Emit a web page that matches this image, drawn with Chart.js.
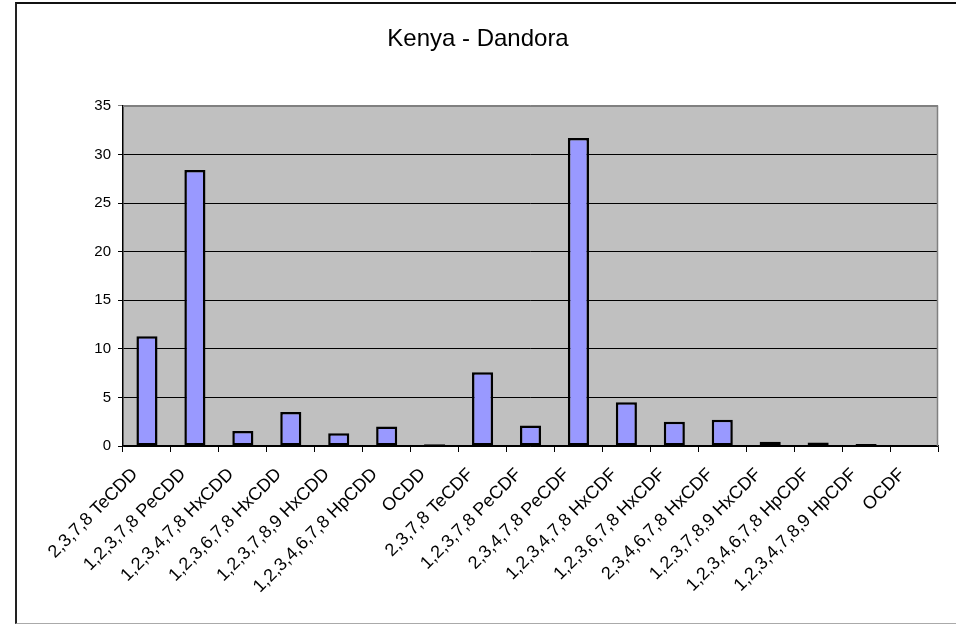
<!DOCTYPE html>
<html>
<head>
<meta charset="utf-8">
<title>Kenya - Dandora</title>
<script src="https://cdn.jsdelivr.net/npm/chart.js@4.4.1/dist/chart.umd.min.js"></script>
<style>
    html, body { margin: 0; padding: 0; background: #fff; overflow: hidden; }
    #wrap { position: relative; width: 956px; height: 624px; }
    #frame {
        position: absolute; left: 15px; top: 2px; width: 960px; height: 619px;
        border-left: 2px solid #222; border-top: 2px solid #111; border-bottom: 1px solid #aaa;
        pointer-events: none;
    }
    canvas { position: absolute; left: 0; top: 0; }
</style>
</head>
<body>
<div id="wrap">
    <canvas id="chart" width="956" height="624"></canvas>
    <div id="frame"></div>
</div>
<script>
// 그림에서 읽은 값 (막대 높이)
const congeners = [
    '2,3,7,8 TeCDD', '1,2,3,7,8 PeCDD', '1,2,3,4,7,8 HxCDD', '1,2,3,6,7,8 HxCDD',
    '1,2,3,7,8,9 HxCDD', '1,2,3,4,6,7,8 HpCDD', 'OCDD', '2,3,7,8 TeCDF',
    '1,2,3,7,8 PeCDF', '2,3,4,7,8 PeCDF', '1,2,3,4,7,8 HxCDF', '1,2,3,6,7,8 HxCDF',
    '2,3,4,6,7,8 HxCDF', '1,2,3,7,8,9 HxCDF', '1,2,3,4,6,7,8 HpCDF', '1,2,3,4,7,8,9 HpCDF', 'OCDF'
];
const dandora = [11.3, 28.4, 1.55, 3.5, 1.3, 2.0, 0.17, 7.6, 2.1, 31.7, 4.5, 2.5, 2.7, 0.45, 0.35, 0.2, null];
const yTicks = [0, 5, 10, 15, 20, 25, 30, 35];

const FONT = 'Arial, "Liberation Sans", sans-serif';

// 플롯 영역 배경 + 회색 테두리
const plotBg = {
    id: 'plotBg',
    beforeDraw(chart) {
        const { ctx, chartArea: a } = chart;
        ctx.save();
        ctx.fillStyle = '#c0c0c0';
        ctx.fillRect(a.left, a.top, a.right - a.left, a.bottom - a.top);
        ctx.restore();
    },
    afterDatasetsDraw(chart) {
        const { ctx, chartArea: a } = chart;
        ctx.save();
        ctx.strokeStyle = '#808080';
        ctx.lineWidth = 1.5;
        ctx.beginPath();
        ctx.moveTo(a.left, a.top + 0.5);
        ctx.lineTo(a.right - 0.5, a.top + 0.5);
        ctx.lineTo(a.right - 0.5, a.bottom);
        ctx.stroke();
        ctx.restore();
    }
};

new Chart(document.getElementById('chart'), {
    type: 'bar',
    data: {
        labels: congeners,
        datasets: [{
            data: dandora,
            backgroundColor: '#9999ff',
            borderColor: '#000',
            borderWidth: 2.5,
            borderSkipped: false,
            barPercentage: 0.44,
            categoryPercentage: 1,
        }]
    },
    options: {
        responsive: false,
        animation: false,
        layout: { padding: { left: 18, right: 18, top: 0, bottom: 0 } },
        plugins: {
            legend: { display: false },
            tooltip: { enabled: false },
            title: {
                display: true,
                text: 'Kenya - Dandora',
                color: '#000',
                font: { family: FONT, size: 24, weight: 'normal' },
                padding: { top: 25, bottom: 52 },
            }
        },
        scales: {
            x: {
                grid: { offset: true, drawOnChartArea: false, drawTicks: true, tickLength: 6, color: '#000' },
                border: { display: true, color: '#000', width: 1.5 },
                ticks: {
                    color: '#000', font: { family: FONT, size: 18 },
                    maxRotation: 45, minRotation: 45, autoSkip: false,
                    padding: 12, labelOffset: -12,
                },
                afterFit(s) { s.height = 178; }
            },
            y: {
                min: 0, max: 35,
                afterBuildTicks(s) { s.ticks = yTicks.map(v => ({ value: v })); },
                grid: {
                    color: c => (c.tick && c.tick.value === 35) ? '#808080' : '#000',
                    tickLength: 5, drawTicks: true,
                },
                border: { display: true, color: '#000', width: 1.5 },
                ticks: { color: '#000', font: { family: FONT, size: 15 }, padding: 7 },
                afterFit(s) { s.width = 105; }
            }
        }
    },
    plugins: [plotBg]
});
</script>
</body>
</html>
